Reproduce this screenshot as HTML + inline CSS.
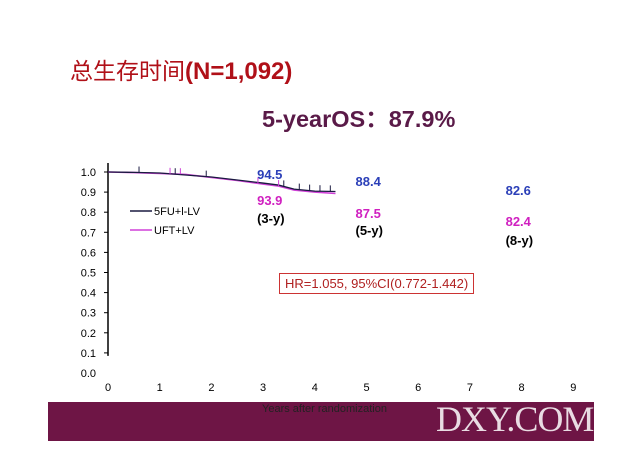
<!DOCTYPE html>
<html><head><meta charset="utf-8"><style>
body{margin:0;width:640px;height:453px;background:#fff;overflow:hidden;font-family:"Liberation Sans","Noto Sans CJK SC",sans-serif;position:relative}
.a{position:absolute;white-space:nowrap}
</style></head><body>
<div class="a" style="left:70px;top:52px;font-size:23px;color:#b01018"><span style="font-family:'Noto Sans CJK SC',sans-serif">总生存时间</span><b style="font-size:24px">(N=1,092)</b></div>
<div class="a" style="left:262px;top:100px;font-size:23.5px;font-weight:bold;color:#5a1a48">5-yearOS：87.9%</div>
<div class="a" style="left:48px;top:402px;width:546px;height:39px;background:#6e1545"></div>
<div class="a" style="left:262px;top:403px;font-size:11px;color:#222">Years after randomization</div>
<div class="a" style="left:436px;top:398px;font-size:36px;font-family:'Liberation Serif',serif;color:#fff;opacity:.85;letter-spacing:-1px">DXY.COM</div>
<svg class="a" style="left:0;top:0" width="640" height="453">
<g id="ax"></g>
<g id="cv"></g>
</svg>
<div class="a" style="left:279px;top:273px;border:1px solid #c33;padding:2px 5px;font-size:13px;color:#b02020;background:#fff">HR=1.055, 95%CI(0.772-1.442)</div>
<script>
const yTicks=["0.0","0.1","0.2","0.3","0.4","0.5","0.6","0.7","0.8","0.9","1.0"];
const xTicks=[0,1,2,3,4,5,6,7,8,9];
const t5fu=[0,0.5,1,1.5,2,2.5,3,3.3,3.6,4,4.4];
const v5fu=[1.0,0.998,0.995,0.985,0.975,0.96,0.945,0.935,0.915,0.905,0.903];
const tuft=[0,0.5,1,1.5,2,2.5,3,3.3,3.6,4,4.4];
const vuft=[1.0,0.997,0.993,0.988,0.973,0.958,0.94,0.93,0.91,0.9,0.893];
const censor5=[0.6,1.3,1.9,3.4,3.7,3.9,4.1,4.3];
const censorU=[1.2,1.4,2.9,3.3];
const annYears=[3,3,3,5,5,5,8,8,8];
const annText=["94.5","93.9","(3-y)","88.4","87.5","(5-y)","82.6","82.4","(8-y)"];
const annColor=["#2b3fb8","#d020c0","#000","#2b3fb8","#d020c0","#000","#2b3fb8","#d020c0","#000"];
const annRow=[0,26,44,7,39,56,16,47,66];
const X=t=>108+t*51.7, Y=v=>373-v*201;
const ns="http://www.w3.org/2000/svg";
function mk(p,tag,at){const e=document.createElementNS(ns,tag);for(const k in at)e.setAttribute(k,at[k]);p.appendChild(e);return e;}
const ax=document.getElementById('ax'),cv=document.getElementById('cv');
let e=mk(ax,'line',{x1:X(0),x2:X(0),y1:163,y2:Y(0.085),stroke:'#000','stroke-width':1.5});

yTicks.forEach((l,i)=>{const v=+l;
 if(v>0){const t=mk(ax,'line',{x1:X(0)-4,x2:X(0),y1:Y(v),y2:Y(v),stroke:'#000'});}
 const tx=mk(ax,'text',{x:96,y:Y(v)+4,'font-size':11,'text-anchor':'end','font-family':'Liberation Sans'});tx.textContent=l;
 });
xTicks.forEach(x=>{const tx=mk(ax,'text',{x:X(x),y:391,'font-size':11,'text-anchor':'middle','font-family':'Liberation Sans'});tx.textContent=x;
 });
function step(ts,vs){let d=`M${X(ts[0])},${Y(vs[0])}`;for(let i=1;i<ts.length;i++)d+=`L${X(ts[i])},${Y(vs[i])}`;return d;}
function interp(ts,vs,t){for(let i=1;i<ts.length;i++)if(t<=ts[i]){const f=(t-ts[i-1])/(ts[i]-ts[i-1]);return vs[i-1]+f*(vs[i]-vs[i-1]);}return vs[vs.length-1];}
e=mk(cv,'path',{d:step(tuft,vuft),stroke:'#d040d8',fill:'none','stroke-width':1.6});
e=mk(cv,'path',{d:step(t5fu,v5fu),stroke:'#1a1a40',fill:'none','stroke-width':1.3});
censor5.forEach(t=>{const y=Y(interp(t5fu,v5fu,t));const c=mk(cv,'line',{x1:X(t),x2:X(t),y1:y-6,y2:y,stroke:'#1a1a40'});});
censorU.forEach(t=>{const y=Y(interp(tuft,vuft,t));const c=mk(cv,'line',{x1:X(t),x2:X(t),y1:y-6,y2:y,stroke:'#d040d8'});});
[["5FU+l-LV","#1a1a40",211],["UFT+LV","#d040d8",230]].forEach(([l,c,y])=>{
 const g=mk(cv,'g',{});
 mk(g,'line',{x1:130,x2:152,y1:y,y2:y,stroke:c,'stroke-width':1.6});
 const t=mk(g,'text',{x:154,y:y+4,'font-size':11,'font-family':'Liberation Sans'});t.textContent=l;});
annText.forEach((s,i)=>{const yr=annYears[i];const off=yr==3?-6:yr==5?-11:-16;
 const t=mk(cv,'text',{x:X(yr)+off,y:179+annRow[i],'font-size':13,'font-weight':'bold',fill:annColor[i],'font-family':'Liberation Sans'});t.textContent=s;
 });
</script>
</body></html>
